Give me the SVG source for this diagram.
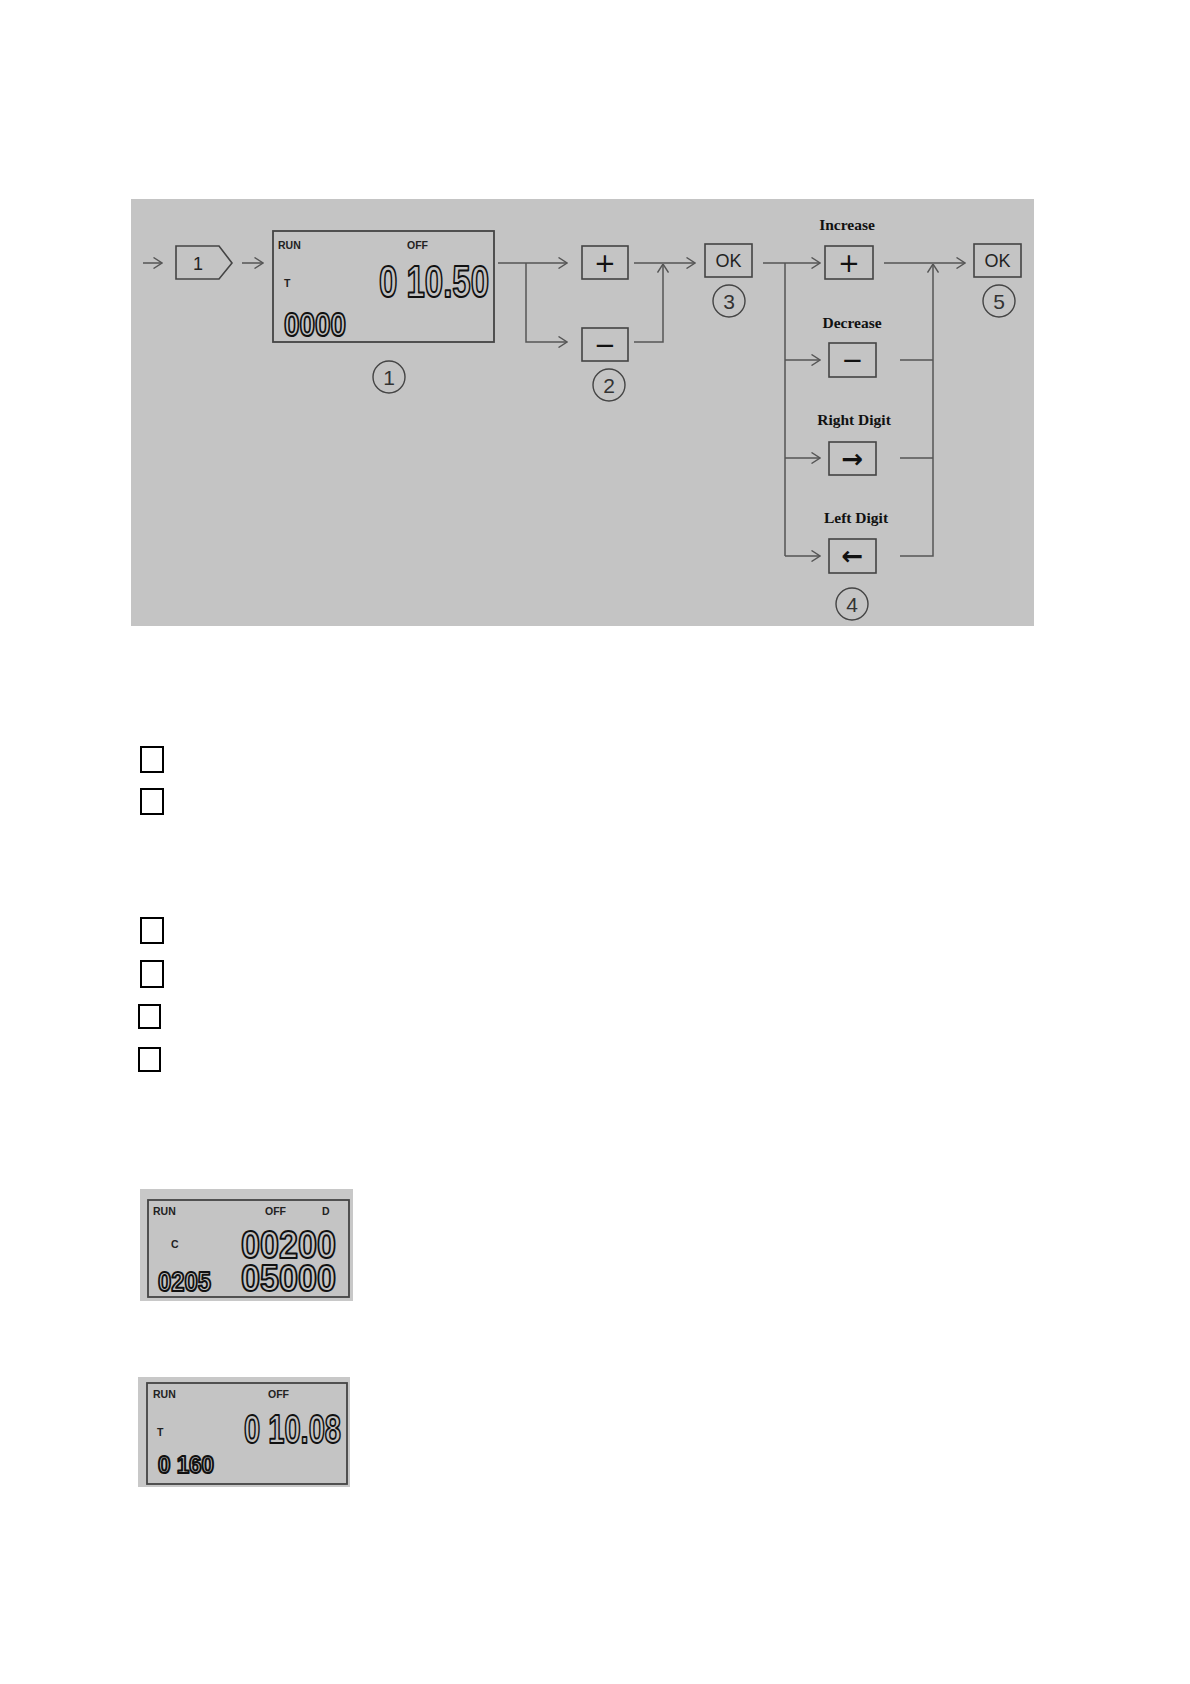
<svg xmlns="http://www.w3.org/2000/svg" width="1190" height="1684" viewBox="0 0 1190 1684">
<style>
.bg{fill:#ffffff}
.panel{fill:#c4c4c4}
.box{fill:none;stroke:#444;stroke-width:1.6}
.lcd{fill:#c4c4c4;stroke:#444;stroke-width:1.8}
.conn{fill:none;stroke:#555;stroke-width:1.5}
.lbl{font-family:"Liberation Serif",serif;font-weight:bold;font-size:15.5px;fill:#111;text-anchor:middle}
.small{font-family:"Liberation Sans",Arial,sans-serif;font-weight:bold;font-size:10.5px;fill:#222}
.seg{font-family:"Liberation Sans",Arial,sans-serif;font-weight:bold;fill:#c4c4c4;stroke:#111;stroke-width:2;stroke-linejoin:round}
.btn{font-family:"DejaVu Sans",sans-serif;font-size:26px;fill:#111;text-anchor:middle}
.ok{font-family:"Liberation Sans",Arial,sans-serif;font-size:18px;fill:#222;text-anchor:middle}
.circ{fill:none;stroke:#444;stroke-width:1.4}
.cnum{font-family:"Liberation Sans",Arial,sans-serif;font-size:21px;fill:#333;text-anchor:middle}
.chk{fill:#fff;stroke:#000;stroke-width:2}
</style>
<defs>
<marker id="arr" viewBox="0 0 10 12" refX="9.5" refY="6" markerWidth="10" markerHeight="12" markerUnits="userSpaceOnUse" orient="auto">
<polyline points="1,0.5 9.5,6 1,11.5" fill="none" stroke="#555" stroke-width="1.4"/>
</marker>
</defs>
<rect class="bg" x="0" y="0" width="1190" height="1684"/>
<rect class="panel" x="131" y="199" width="903" height="427"/>

<g id="connectors">
<line class="conn" x1="143" y1="263" x2="162" y2="263" marker-end="url(#arr)"/>
<line class="conn" x1="242" y1="263" x2="263" y2="263" marker-end="url(#arr)"/>
<line class="conn" x1="498" y1="263" x2="567" y2="263" marker-end="url(#arr)"/>
<path class="conn" d="M526,263 V342 H567" marker-end="url(#arr)"/>
<line class="conn" x1="634" y1="263" x2="695" y2="263" marker-end="url(#arr)"/>
<path class="conn" d="M634,342 H663 V264" marker-end="url(#arr)"/>
<line class="conn" x1="763" y1="263" x2="820" y2="263" marker-end="url(#arr)"/>
<path class="conn" d="M785,263 V556"/>
<path class="conn" d="M785,360 H820" marker-end="url(#arr)"/>
<path class="conn" d="M785,458 H820" marker-end="url(#arr)"/>
<path class="conn" d="M785,556 H820" marker-end="url(#arr)"/>
<line class="conn" x1="884" y1="263" x2="965" y2="263" marker-end="url(#arr)"/>
<path class="conn" d="M900,360 H933"/>
<path class="conn" d="M900,458 H933"/>
<path class="conn" d="M900,556 H933 V264" marker-end="url(#arr)"/>
</g>

<g id="step1-tag">
<polygon class="box" points="176,246 219,246 232,263 219,279 176,279"/>
<text class="ok" x="198" y="270" font-size="20">1</text>
</g>

<g id="lcd-main">
<rect class="lcd" x="273" y="231" width="221" height="111"/>
<text class="small" x="278" y="249">RUN</text>
<text class="small" x="407" y="249">OFF</text>
<text class="small" x="284" y="287">T</text>
<text class="seg" x="379" y="297" font-size="45" textLength="110" lengthAdjust="spacingAndGlyphs">0 10.50</text>
<text class="seg" x="284" y="336" font-size="34" textLength="62" lengthAdjust="spacingAndGlyphs">0000</text>
</g>
<g id="circle-1"><circle class="circ" cx="389" cy="377" r="16"/><text class="cnum" x="389" y="384.5">1</text></g>

<g id="btn-plus"><rect class="box" x="582" y="246" width="46" height="33"/><text class="btn" x="605" y="272">+</text></g>
<g id="btn-minus"><rect class="box" x="582" y="328" width="46" height="33"/><text class="btn" x="605" y="354">−</text></g>
<g id="circle-2"><circle class="circ" cx="609" cy="385" r="16"/><text class="cnum" x="609" y="392.5">2</text></g>

<g id="btn-ok1"><rect class="box" x="705" y="244" width="47" height="33"/><text class="ok" x="728.5" y="267">OK</text></g>
<g id="circle-3"><circle class="circ" cx="729" cy="301" r="16"/><text class="cnum" x="729" y="308.5">3</text></g>

<g id="inc"><text class="lbl" x="847" y="230">Increase</text><rect class="box" x="825" y="246" width="48" height="33"/><text class="btn" x="849" y="272">+</text></g>
<g id="dec"><text class="lbl" x="852" y="328">Decrease</text><rect class="box" x="829" y="343" width="47" height="34"/><text class="btn" x="852.5" y="369">−</text></g>
<g id="right"><text class="lbl" x="854" y="425">Right Digit</text><rect class="box" x="829" y="442" width="47" height="33"/><text class="btn" x="852.5" y="468" font-weight="bold">→</text></g>
<g id="left"><text class="lbl" x="856" y="523">Left Digit</text><rect class="box" x="829" y="539" width="47" height="34"/><text class="btn" x="852.5" y="565" font-weight="bold">←</text></g>
<g id="circle-4"><circle class="circ" cx="852" cy="604" r="16"/><text class="cnum" x="852" y="611.5">4</text></g>

<g id="btn-ok2"><rect class="box" x="974" y="244" width="47" height="33"/><text class="ok" x="997.5" y="267">OK</text></g>
<g id="circle-5"><circle class="circ" cx="999" cy="301" r="16"/><text class="cnum" x="999" y="308.5">5</text></g>

<g id="checkboxes">
<rect class="chk" x="141" y="747" width="22" height="25"/>
<rect class="chk" x="141" y="789" width="22" height="25"/>
<rect class="chk" x="141" y="918" width="22" height="25"/>
<rect class="chk" x="141" y="961" width="22" height="26"/>
<rect class="chk" x="139" y="1005" width="21" height="23"/>
<rect class="chk" x="139" y="1048" width="21" height="23"/>
</g>

<g id="lcd-counter">
<rect x="140" y="1189" width="213" height="112" fill="#c8c8c8"/>
<rect class="lcd" x="148" y="1200" width="201" height="97"/>
<text class="small" x="153" y="1215" font-size="9.5">RUN</text>
<text class="small" x="265" y="1215" font-size="9.5">OFF</text>
<text class="small" x="322" y="1215" font-size="9.5">D</text>
<text class="small" x="171" y="1248" font-size="10">C</text>
<text class="seg"><tspan x="241" y="1258" font-size="39" textLength="95" lengthAdjust="spacingAndGlyphs">00200</tspan><tspan x="241" y="1291" font-size="37" textLength="95" lengthAdjust="spacingAndGlyphs">05000</tspan></text>
<text class="seg" x="158" y="1291" font-size="27" textLength="53" lengthAdjust="spacingAndGlyphs" stroke-width="1.6">0205</text>
</g>

<g id="lcd-timer">
<rect x="138" y="1377" width="212" height="110" fill="#c8c8c8"/>
<rect class="lcd" x="147" y="1383" width="200" height="101"/>
<text class="small" x="153" y="1398" font-size="9.5">RUN</text>
<text class="small" x="268" y="1398" font-size="9.5">OFF</text>
<text class="small" x="157" y="1436" font-size="10">T</text>
<text class="seg" x="244" y="1443" font-size="41" textLength="97" lengthAdjust="spacingAndGlyphs">0 10.08</text>
<text class="seg" x="158" y="1473" font-size="23" textLength="56" lengthAdjust="spacingAndGlyphs" stroke-width="1.6">0 160</text>
</g>
</svg>
